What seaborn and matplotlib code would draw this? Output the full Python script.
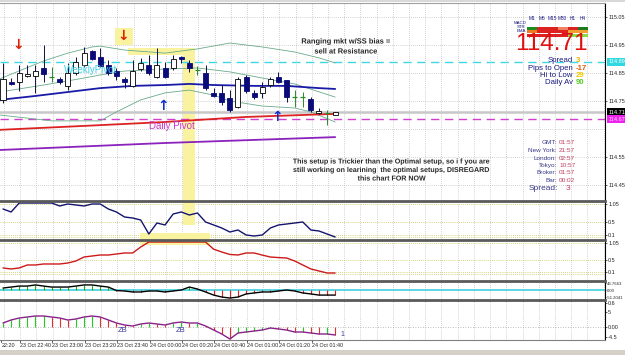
import matplotlib
matplotlib.use("Agg")
import matplotlib.pyplot as plt
import matplotlib.transforms as mtrans
import matplotlib.patheffects as pe
from matplotlib.patches import Rectangle
import numpy as np
import pandas as pd
import seaborn as sns

sns.set_theme(style="white")
plt.rcParams['font.family'] = ['Liberation Sans', 'DejaVu Sans']
plt.rcParams['axes.unicode_minus'] = False

# ---------------- data ----------------
opens = [114.754, 114.818, 114.818, 114.839, 114.839, 114.868, 114.836, 114.829, 114.804, 114.850,
         114.879, 114.929, 114.907, 114.879, 114.857, 114.829, 114.804, 114.864, 114.879, 114.836,
         114.868, 114.868, 114.907, 114.886, 114.861, 114.850, 114.779, 114.779, 114.761, 114.729,
         114.836, 114.779, 114.779, 114.807, 114.836, 114.825, 114.764, 114.764, 114.757, 114.707,
         114.707, 114.700]
highs = [114.886, 114.832, 114.879, 114.879, 114.879, 114.950, 114.871, 114.836, 114.886, 114.907,
         114.943, 114.932, 114.939, 114.896, 114.868, 114.836, 114.896, 114.904, 114.914, 114.939,
         114.889, 114.914, 114.911, 114.896, 114.875, 114.879, 114.796, 114.807, 114.789, 114.836,
         114.843, 114.789, 114.818, 114.836, 114.854, 114.825, 114.789, 114.782, 114.764, 114.725,
         114.718, 114.711]
lows = [114.743, 114.807, 114.786, 114.836, 114.779, 114.818, 114.818, 114.811, 114.789, 114.843,
        114.871, 114.896, 114.871, 114.843, 114.825, 114.796, 114.800, 114.857, 114.843, 114.832,
        114.832, 114.861, 114.886, 114.854, 114.843, 114.789, 114.764, 114.736, 114.711, 114.725,
        114.779, 114.757, 114.761, 114.800, 114.814, 114.746, 114.729, 114.729, 114.711, 114.704,
        114.664, 114.700]
closes = [114.829, 114.811, 114.850, 114.846, 114.857, 114.846, 114.836, 114.818, 114.850, 114.889,
          114.921, 114.900, 114.875, 114.850, 114.839, 114.818, 114.857, 114.886, 114.850, 114.879,
          114.836, 114.900, 114.900, 114.868, 114.861, 114.796, 114.768, 114.746, 114.718, 114.829,
          114.786, 114.764, 114.800, 114.829, 114.818, 114.764, 114.764, 114.764, 114.718, 114.714,
          114.707, 114.711]

# main-window lines (bar index, price)
ma_bars = [-0.4, 4, 8, 12, 16, 20, 23, 26, 31, 35, 39, 41]
ma_vals = [114.754, 114.768, 114.782, 114.796, 114.804, 114.807, 114.811, 114.807, 114.804, 114.804, 114.796, 114.793]
upper_bars = [-0.4, 5, 8, 11, 12, 15, 20, 24, 28, 32, 36, 39, 41]
upper_vals = [114.829, 114.893, 114.921, 114.943, 114.946, 114.932, 114.921, 114.936, 114.957, 114.943, 114.925, 114.904, 114.886]
mid_bars = [-0.4, 5, 10, 12, 15, 20, 24, 28, 32, 36, 41]
mid_vals = [114.782, 114.807, 114.832, 114.843, 114.857, 114.864, 114.868, 114.854, 114.832, 114.811, 114.764]
low_bars = [-0.4, 6, 12, 14, 17, 20, 23, 26, 28, 32, 36, 38, 41]
low_vals = [114.700, 114.679, 114.679, 114.711, 114.754, 114.779, 114.789, 114.771, 114.750, 114.732, 114.725, 114.711, 114.675]
red_bars = [-0.4, 10, 20, 30, 41]
red_vals = [114.647, 114.661, 114.675, 114.693, 114.704]
purple_bars = [-0.4, 20, 41]
purple_vals = [114.575, 114.600, 114.621]

weekly_pivot = 114.89
daily_pivot = 114.685
bid_price = 114.71
price_box_labels = ["114.89", "114.71", "114.67"]
main_ticks = [115.05, 114.95, 114.85, 114.75, 114.55, 114.45]
main_grid = [115.05, 114.95, 114.85, 114.75, 114.65, 114.55, 114.45]

# indicator windows
ind1 = [0.904, 0.812, 1.088, 1.088, 1.088, 1.088, 1.088, 0.996, 1.058, 1.027,
        0.996, 1.058, 1.058, 0.904, 0.812, 0.658, 0.627, 0.565, 0.135, 0.473,
        0.412, 0.750, 0.812, 0.719, 0.781, 0.504, 0.412, 0.319, 0.196, 0.258,
        0.104, 0.073, 0.104, 0.319, 0.412, 0.442, 0.473, 0.504, 0.258, 0.227,
        0.135, 0.042]
ind2 = [0.244, 0.212, 0.244, 0.341, 0.341, 0.373, 0.373, 0.373, 0.405, 0.470,
        0.598, 0.631, 0.663, 0.663, 0.695, 0.728, 0.728, 0.921, 1.082, 1.082,
        1.082, 1.082, 1.082, 1.082, 1.082, 1.082, 0.850, 0.760, 0.680, 0.663,
        0.728, 0.728, 0.660, 0.598, 0.580, 0.566, 0.470, 0.340, 0.212, 0.147,
        0.082, 0.082]
ind3 = [14, 21, 28, 28, 36, 28, 21, 21, 21, 28,
        36, 36, 28, 21, -4, -7, -14, -14, -7, -7,
        -14, -7, 0, 21, 7, -14, -36, -50, -57, -50,
        -28, -21, -14, -14, -7, 0, -7, -21, -28, -36,
        -36, -36]
ind4 = [0.4, 0.7, 0.9, 1.0, 1.1, 1.1, 1.0, 0.9, 0.7, 0.8,
        1.0, 1.1, 1.0, 0.7, 0.4, 0.2, 0.1, 0.3, 0.4, 0.3,
        0.2, 0.4, 0.5, 0.4, 0.4, 0.1, -0.3, -0.7, -1.2, -0.6,
        -0.5, -0.4, -0.3, -0.1, -0.2, -0.3, -0.5, -0.5, -0.6, -0.7,
        -0.7, -0.8]
ind1_ticks = [1.05, 0.5, 0.1]
ind1_grid = [1.05, 0.5, 0.1, 0.05]
ind2_ticks = [1.05, 0.5, 0.1]
ind2_grid = [1.05, 0.5, 0.1, 0.05]
ind3_ticks = [46.7663, 0.0, -51.2041]
ind3_labels = ["46.7663", "0.00", "-51.2041"]
ind4_ticks = [2.4, 1.5, 0.0, -1.0]
ind4_labels = ["0.6", "5", "0.00", "-4.5"]

time_labels = ["22:20", "23 Oct 22:40", "23 Oct 23:00", "23 Oct 23:20", "23 Oct 23:40",
               "24 Oct 00:00", "24 Oct 00:20", "24 Oct 00:40", "24 Oct 01:00", "24 Oct 01:20",
               "24 Oct 01:40"]
time_label_bars = [-0.3, 2, 6, 10, 14, 18, 22, 26, 30, 34, 38]

mtf_periods = ["M1", "M5", "M15", "M30", "H1", "H4"]
mtf_rows = ["MACD", "STR", "EMA"]
mtf_colors = [["#1e8c1e", "#dd2020", "#dd2020", "#f08060", "#dd2020", "#1e7a1e"],
              ["#f07a20", "#dd2020", "#dd2020", "#dd2020", "#f0a030", "#f0a030"],
              ["#dd2020", "#dd2020", "#dd2020", "#dd2020", "#88dd44", "#88dd44"]]
stat_labels = ["Spread", "Pips to Open", "Hi to Low", "Daily Av"]
stat_values = ["3", "-17", "29", "90"]
stat_colors = ["#e8b400", "#e05a10", "#f0c800", "#55cc22"]
clock_labels = ["GMT:", "New York:", "London:", "Tokyo:", "Broker:", "Bar:"]
clock_values = ["01:57", "21:57", "02:57", "10:57", "01:57", "00:02"]

# ---------------- figure layout ----------------
W, H = 625, 355
fig = plt.figure(figsize=(W / 100, H / 100), dpi=100)
fig.patch.set_facecolor("white")


def frac_rect(top, bot, left=0, right=605):
    return [left / W, 1 - bot / H, (right - left) / W, (bot - top) / H]


ax = fig.add_axes(frac_rect(3, 200))
ax2 = fig.add_axes(frac_rect(201, 240))
ax3 = fig.add_axes(frac_rect(240, 281))
ax4 = fig.add_axes(frac_rect(281, 300))
ax5 = fig.add_axes(frac_rect(300, 340))
panels = [ax, ax2, ax3, ax4, ax5]

XLIM = (-0.37, 74.3)
for a in panels:
    a.set_xlim(*XLIM)
    a.set_facecolor("white")
    a.yaxis.tick_right()
    a.tick_params(axis="y", labelsize=4.0, length=1.5, width=0.5, pad=0.8,
                  right=True, left=False, labelright=True, labelleft=False)
    a.set_xticks([])
    for s in ["left", "bottom"]:
        a.spines[s].set_visible(False)
    a.spines["right"].set_color("black")
    a.spines["right"].set_linewidth(0.8)
    a.spines["top"].set_color("#5a5a5a")
    a.spines["top"].set_linewidth(2.0)
    for g in np.arange(0.12, XLIM[1], 2):
        a.axvline(g, color="#a8a8a8", ls=(0, (1, 2)), lw=0.5, zorder=0)
ax.spines["top"].set_color("#a0a0a0")
ax.spines["top"].set_linewidth(0.8)
ax5.spines["bottom"].set_visible(True)
ax5.spines["bottom"].set_color("#808080")
ax5.spines["bottom"].set_linewidth(0.8)

# ---------------- main price window ----------------
ax.set_ylim(114.3964, 115.1)
ax.set_yticks(main_ticks)
ax.set_yticklabels([f"{v:.2f}" for v in main_ticks])
for g in main_grid:
    ax.axhline(g, color="#a8a8a8", ls=(0, (1, 2)), lw=0.5, zorder=0)

yellow = "#f9f3a0"
ax.add_patch(Rectangle((13.8, 114.95), 2.2, 0.061, fc=yellow, ec="none", zorder=0.2))
ax.add_patch(Rectangle((15.4, 114.914), 8.3, 0.025, fc=yellow, ec="none", zorder=0.2))
ax.add_patch(Rectangle((22.2, 114.3964), 1.5, 114.939 - 114.3964, fc=yellow, ec="none", zorder=0.2))

ax.axhline(bid_price, color="#c8c8c8", lw=1.8, zorder=0.5)
ax.axhline(weekly_pivot, color="#40d8e0", ls=(0, (6, 4)), lw=1.0, zorder=1)
ax.axhline(daily_pivot, color="#d040d0", ls=(0, (6, 4)), lw=1.0, zorder=1)

band_col = "#6aaa8a"
sns.lineplot(x=upper_bars, y=upper_vals, ax=ax, color=band_col, lw=0.6, legend=False)
sns.lineplot(x=mid_bars, y=mid_vals, ax=ax, color=band_col, lw=0.6, legend=False)
sns.lineplot(x=low_bars, y=low_vals, ax=ax, color=band_col, lw=0.6, legend=False)
sns.lineplot(x=ma_bars, y=ma_vals, ax=ax, color="#1a1aa8", lw=1.3, legend=False)
sns.lineplot(x=red_bars, y=red_vals, ax=ax, color="#dd2222", lw=1.3, legend=False)
sns.lineplot(x=purple_bars, y=purple_vals, ax=ax, color="#8a22bb", lw=1.3, legend=False)

bars = np.arange(len(opens))
o = np.array(opens); c = np.array(closes)
hi = np.array(highs); lo = np.array(lows)
bull = c > o; bear = c < o; doji = c == o
wick_cols = np.where(doji, "#2a8a2a", "#101040")
ax.vlines(bars, lo, hi, colors=list(wick_cols), lw=0.7, zorder=2)
ax.bar(bars[bull], (c - o)[bull], bottom=o[bull], width=0.62, color="white",
       edgecolor="black", linewidth=0.6, zorder=3)
ax.bar(bars[bear], (o - c)[bear], bottom=c[bear], width=0.62, color="#0a0a78",
       edgecolor="#0a0a78", linewidth=0.6, zorder=3)
ax.hlines(c[doji], bars[doji] - 0.31, bars[doji] + 0.31, colors="#2a8a2a", lw=0.9, zorder=3)

# arrows
arrow_kw = dict(fontsize=10, weight="bold", ha="center", va="center", family="DejaVu Sans")
ax.text(1.85, 114.95, "↓", color="#e02000", **arrow_kw)
ax.text(14.8, 114.982, "↓", color="#e02000", **arrow_kw)
ax.text(19.75, 114.732, "↑", color="#1030d0", **arrow_kw)
ax.text(33.8, 114.693, "↑", color="#1030d0", **arrow_kw)

ax.set_xlabel(""); ax.set_ylabel("")

# price boxes on the scale
trm = mtrans.blended_transform_factory(ax.transAxes, ax.transData)
for val, lab, fc, tc in zip([weekly_pivot, bid_price, daily_pivot], price_box_labels,
                            ["#30d8e0", "#000000", "#ee22ee"], ["white", "white", "#ffd0ff"]):
    ax.text(1.006, val, lab, transform=trm, fontsize=4.0, color=tc, ha="left", va="center",
            clip_on=False, bbox=dict(boxstyle="square,pad=0.25", fc=fc, ec="none"))

# ---------------- indicator 1 (blue) ----------------
ax2.set_ylim(-0.05, 1.15)
ax2.set_yticks(ind1_ticks)
ax2.set_yticklabels([f"{v:g}" for v in ind1_ticks])
for g in ind1_grid:
    ax2.axhline(g, color="#c8c860", ls=(0, (1, 1.5)), lw=0.6, zorder=0)
ax2.add_patch(Rectangle((22.2, 0.41), 1.5, 0.74, fc=yellow, ec="none", zorder=0.2))
ax2.add_patch(Rectangle((16.9, -0.05), 8.7, 0.215, fc=yellow, ec="none", zorder=0.2))
sns.lineplot(x=bars, y=ind1, ax=ax2, color="#141470", lw=1.0, legend=False)
ax2.set_xlabel(""); ax2.set_ylabel("")

# ---------------- indicator 2 (red) ----------------
ax3.set_ylim(-0.176, 1.147)
ax3.set_yticks(ind2_ticks)
ax3.set_yticklabels([f"{v:g}" for v in ind2_ticks])
for g in ind2_grid:
    ax3.axhline(g, color="#c8c860", ls=(0, (1, 1.5)), lw=0.6, zorder=0)
ax3.add_patch(Rectangle((16.9, 0.986), 8.7, 0.161, fc=yellow, ec="none", zorder=0.2))
sns.lineplot(x=bars, y=ind2, ax=ax3, color="#cc1a1a", lw=1.0, legend=False)
ax3.set_xlabel(""); ax3.set_ylabel("")

# ---------------- indicator 3 (black + histogram) ----------------
ax4.set_ylim(-71, 64)
ax4.set_yticks(ind3_ticks)
ax4.set_yticklabels(ind3_labels)
ax4.tick_params(axis="y", labelsize=3.1, pad=0.5, length=1)
ax4.axhline(0, color="#40d0e0", lw=1.2, zorder=1)
v3 = np.array(ind3)
ax4.vlines(bars, 0, v3, colors=list(np.where(v3 >= 0, "#22aa22", "#dd2222")), lw=0.8, zorder=2)
sns.lineplot(x=bars, y=ind3, ax=ax4, color="black", lw=1.0, legend=False)
ax4.set_xlabel(""); ax4.set_ylabel("")

# ---------------- indicator 4 (purple + histogram) ----------------
ax5.set_ylim(-1.3, 2.7)
ax5.set_yticks(ind4_ticks)
ax5.set_yticklabels(ind4_labels)
ax5.axhline(0, color="#a8a8a8", ls=(0, (1, 2)), lw=0.6, zorder=0)
v4 = np.array(ind4)
rising = np.concatenate([[True], np.diff(v4) >= 0])
ax5.vlines(bars, 0, v4, colors=list(np.where(rising, "#22cc22", "#e03030")), lw=0.8, zorder=2)
sns.lineplot(x=bars, y=ind4, ax=ax5, color="#882288", lw=1.0, legend=False)
ax5.text(14.8, -0.4, "ZB", color="#3a3aa0", fontsize=5.5, ha="center", va="center")
ax5.text(21.9, -0.4, "ZB", color="#3a3aa0", fontsize=5.5, ha="center", va="center")
ax5.text(41.9, -0.8, "1", color="#3a3aa0", fontsize=5, ha="center", va="center")
ax5.set_xlabel(""); ax5.set_ylabel("")

# time axis labels
tr5 = mtrans.blended_transform_factory(ax5.transData, ax5.transAxes)
for b, lab in zip(time_label_bars, time_labels):
    ax5.text(b + 0.1, -0.07, lab, transform=tr5, fontsize=3.9, ha="left", va="top", clip_on=False)
    ax5.plot([b + 0.1, b + 0.1], [0, -0.05], transform=tr5, color="black", lw=0.5, clip_on=False)

# ---------------- overlay texts ----------------
def ft(x, y, s, **kw):
    fig.text(x / W, 1 - y / H, s, **kw)


halo = [pe.withStroke(linewidth=1.5, foreground="white")]
ft(346, 42, "Ranging mkt w/SS bias =", fontsize=5.4, weight="bold", ha="center", va="center", path_effects=halo)
ft(346, 52, "sell at Resistance", fontsize=5.4, weight="bold", ha="center", va="center", path_effects=halo)
ft(392, 162, "This setup is Trickier than the Optimal setup, so i f you are", fontsize=5.1,
   weight="bold", ha="center", va="center", path_effects=halo)
ft(392, 170.5, "still working on learining  the optimal setups, DISREGARD", fontsize=5.1,
   weight="bold", ha="center", va="center", path_effects=halo)
ft(392, 179, "this chart FOR NOW", fontsize=5.1, weight="bold", ha="center", va="center", path_effects=halo)
ft(91, 70, "WeeklyPivot", fontsize=7, color="#40d0e8", ha="center", va="center")
ft(172, 126, "Daily Pivot", fontsize=7, color="#cc33cc", ha="center", va="center")

# MTF panel
cell_w = 10.2
row_y = [26.5, 30.0, 33.5]
row_h = [3.0, 3.0, 3.5]
for ci, per in enumerate(mtf_periods):
    ft(532 + cell_w * ci, 19, per, fontsize=3.4, color="#1a1a80", ha="center", va="center")
for ri, (rname, row) in enumerate(zip(mtf_rows, mtf_colors)):
    ft(526, 23 + 4 * ri, rname, fontsize=3.2, color="#1a1a80", ha="right", va="center")
    for ci, col in enumerate(row):
        fig.add_artist(Rectangle(((527 + ci * cell_w) / W, 1 - (row_y[ri] + row_h[ri]) / H),
                                 cell_w / W, row_h[ri] / H, transform=fig.transFigure,
                                 fc=col, ec="none"))

ft(551, 44.5, "114.71", fontsize=17.5, color="#e01010", ha="center", va="center")
for k, (lab, val, col) in enumerate(zip(stat_labels, stat_values, stat_colors)):
    y = [61.0, 68.2, 75.4, 82.6][k]
    ft(573, y, lab, fontsize=5.6, color="#1a1a80", ha="right", va="center")
    ft(576, y, val, fontsize=5.6, color=col, ha="left", va="center", weight="bold")

for k, (lab, val) in enumerate(zip(clock_labels, clock_values)):
    y = 143 + 7.5 * k
    ft(557, y, lab, fontsize=4.6, color="#3a3a8a", ha="right", va="center")
    ft(559, y, val, fontsize=4.6, color="#c04060", ha="left", va="center")
ft(558, 188.5, "Spread:", fontsize=6, color="#3a3a8a", ha="right", va="center")
ft(566, 188.5, "3", fontsize=6, color="#c04060", ha="left", va="center")

# window frame at the bottom
fig.add_artist(Rectangle((0, 0), 1, 5 / H, transform=fig.transFigure, fc="#d4d0c8", ec="none"))
fig.add_artist(Rectangle((0, 1 - 2 / H), 1, 2 / H, transform=fig.transFigure, fc="#d8d8d8", ec="none"))

fig.savefig("out.png", dpi=100)
